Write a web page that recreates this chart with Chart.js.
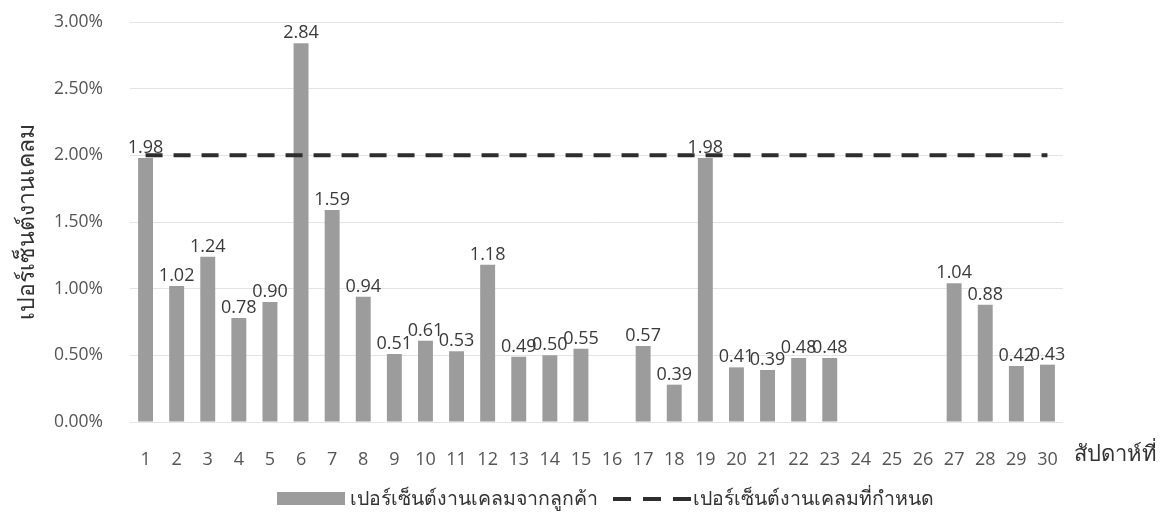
<!DOCTYPE html>
<html>
<head>
<meta charset="utf-8">
<script src="https://cdn.jsdelivr.net/npm/chart.js@4/dist/chart.umd.min.js"></script>
<style>
    html, body { margin: 0; padding: 0; background: #ffffff; }
    #wrap { width: 1166px; height: 516px; position: relative; }
</style>
</head>
<body>
<div id="wrap"><canvas id="claim_chart"></canvas></div>
<script>
// weeks 1..30
var weeks = ['1', '2', '3', '4', '5', '6', '7', '8', '9', '10',
    '11', '12', '13', '14', '15', '16', '17', '18', '19', '20',
    '21', '22', '23', '24', '25', '26', '27', '28', '29', '30'];

// bar heights (percent)
var claimPct = [1.98, 1.02, 1.24, 0.78, 0.90, 2.84, 1.59, 0.94, 0.51, 0.61,
    0.53, 1.18, 0.49, 0.50, 0.55, null, 0.57, 0.28, 1.98, 0.41,
    0.39, 0.48, 0.48, null, null, null, 1.04, 0.88, 0.42, 0.43];

// numbers printed above the bars
var claimLabels = ['1.98', '1.02', '1.24', '0.78', '0.90', '2.84', '1.59', '0.94', '0.51', '0.61',
    '0.53', '1.18', '0.49', '0.50', '0.55', '', '0.57', '0.39', '1.98', '0.41',
    '0.39', '0.48', '0.48', '', '', '', '1.04', '0.88', '0.42', '0.43'];

// target line
var targetPct = [2, 2, 2, 2, 2, 2, 2, 2, 2, 2,
    2, 2, 2, 2, 2, 2, 2, 2, 2, 2,
    2, 2, 2, 2, 2, 2, 2, 2, 2, 2];

var yTicks = [0, 0.5, 1, 1.5, 2, 2.5, 3];

var barName = 'เปอร์เซ็นต์งานเคลมจากลูกค้า';
var lineName = 'เปอร์เซ็นต์งานเคลมที่กำหนด';
var xTitle = 'สัปดาห์ที่';
var yTitle = 'เปอร์เซ็นต์งานเคลม';

var FONT = '"Open Sans", "Noto Sans", sans-serif';
var BAR_COLOR = '#9c9c9c';
var LINE_COLOR = '#2e2e2e';

var Extras = {
    id: 'extras',
    afterDatasetsDraw: function(chart) {
        var ctx = chart.ctx;
        var meta = chart.getDatasetMeta(0);
        ctx.save();
        ctx.font = '18px ' + FONT;
        ctx.fillStyle = '#3a3a3a';
        ctx.textAlign = 'center';
        ctx.textBaseline = 'bottom';
        for (var i = 0; i < meta.data.length; ++i) {
            if (claimPct[i] === null) continue;
            var el = meta.data[i];
            ctx.fillText(claimLabels[i], el.x, el.y - 1);
        }
        ctx.restore();
    },
    afterDraw: function(chart) {
        var ctx = chart.ctx;
        var area = chart.chartArea;
        ctx.save();

        // x axis title to the right of the ticks
        ctx.font = '22px ' + FONT;
        ctx.fillStyle = '#333333';
        ctx.textAlign = 'left';
        ctx.textBaseline = 'middle';
        ctx.fillText(xTitle, area.right + 11, 455);

        // legend
        var y = 499;
        ctx.font = '19.5px ' + FONT;
        var w1 = ctx.measureText(barName).width;
        var x = 277;
        ctx.fillStyle = BAR_COLOR;
        ctx.fillRect(x, y - 7, 68, 13);
        x += 73;
        ctx.fillStyle = '#333333';
        ctx.fillText(barName, x, y);
        x += w1 + 15;
        ctx.strokeStyle = LINE_COLOR;
        ctx.lineWidth = 4;
        ctx.setLineDash([18, 12]);
        ctx.beginPath();
        ctx.moveTo(x, y);
        ctx.lineTo(x + 78, y);
        ctx.stroke();
        ctx.setLineDash([]);
        x += 80;
        ctx.fillText(lineName, x, y);
        ctx.restore();
    }
};

new Chart(document.getElementById('claim_chart'), {
    type: 'bar',
    data: {
        labels: weeks,
        datasets: [{
            label: barName,
            data: claimPct,
            backgroundColor: BAR_COLOR,
            barPercentage: 0.96,
            categoryPercentage: 0.5,
            order: 1
        }, {
            type: 'line',
            label: lineName,
            data: targetPct,
            borderColor: LINE_COLOR,
            borderWidth: 4,
            borderDash: [17, 11],
            pointRadius: 0,
            fill: false,
            order: 0
        }]
    },
    options: {
        responsive: true,
        maintainAspectRatio: false,
        animation: false,
        layout: { padding: { left: 0, top: 22, right: 103, bottom: 0 } },
        plugins: {
            legend: { display: false },
            tooltip: { enabled: false }
        },
        scales: {
            x: {
                grid: { display: false },
                border: { display: false },
                ticks: { color: '#555555', font: { family: FONT, size: 18 }, padding: 19, maxRotation: 0, autoSkip: false },
                afterFit: function(scale) { scale.height = 94; }
            },
            y: {
                min: 0,
                max: 3,
                afterBuildTicks: function(scale) {
                    scale.ticks = yTicks.map(function(v) { return { value: v }; });
                },
                grid: { color: '#e4e4e4', drawTicks: false },
                border: { display: false },
                ticks: {
                    color: '#555555',
                    font: { family: FONT, size: 17.5 },
                    padding: 27,
                    callback: function(v) { return v.toFixed(2) + '%'; }
                },
                title: {
                    display: true,
                    text: yTitle,
                    color: '#333333',
                    font: { family: FONT, size: 23 },
                    padding: { top: 14, bottom: 0 }
                },
                afterFit: function(scale) {
                    scale.width = 130;
                    scale.paddingTop = 0;
                    scale.paddingBottom = 0;
                }
            }
        }
    },
    plugins: [Extras]
});
</script>
</body>
</html>
